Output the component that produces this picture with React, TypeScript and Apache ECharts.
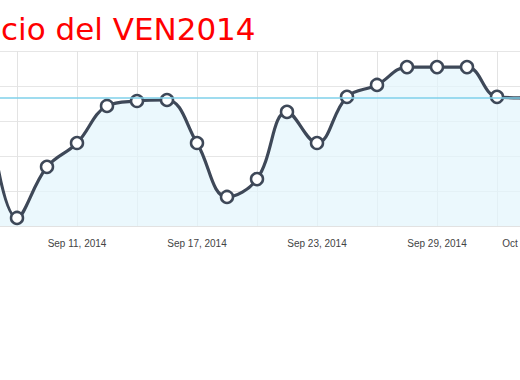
import React, { useEffect, useRef } from "react";
import * as echarts from "echarts";

const titleText = "cio del VEN2014";
const xLabels = [
  "", "", "", "Sep 11, 2014", "", "", "", "Sep 17, 2014", "", "",
  "", "Sep 23, 2014", "", "", "", "Sep 29, 2014", "", "", "Oct", "",
];
const priceValues = [
  3.75, 0.23, 1.69, 2.37, 3.43, 3.57, 3.6, 2.37, 0.83, 1.34,
  3.26, 2.37, 3.69, 4.03, 4.54, 4.54, 4.54, 3.69, 3.66, 3.66,
];
const referenceValue = 3.67;

export default function App() {
  const ref = useRef<HTMLDivElement>(null);
  useEffect(() => {
    if (!ref.current) return;
    const chart = echarts.init(ref.current, null, { renderer: "svg" });
    chart.setOption({
      animation: false,
      graphic: [
        {
          type: "text",
          left: 1,
          top: 13,
          style: {
            text: titleText,
            fill: "#ff0000",
            fontSize: 31,
            fontFamily: "DejaVu Sans",
          },
        },
      ],
      grid: {
        left: -13,
        right: -37,
        top: 51,
        bottom: 154,
        containLabel: false,
        outerBoundsMode: "none",
      },
      xAxis: {
        type: "category",
        boundaryGap: false,
        data: xLabels.map((l, i) => (l === "" ? " ".repeat(i + 1) : l)),
        axisLine: { show: true, lineStyle: { color: "#e2e2e2" } },
        axisTick: { show: false },
        axisLabel: {
          interval: 0,
          color: "#444",
          fontSize: 10,
          fontFamily: "Liberation Sans, Arial",
          margin: 12,
          formatter: (v: string) => (v === "Oct" ? "{o|Oct}" : v),
          rich: {
            o: {
              color: "#444",
              fontSize: 10,
              fontFamily: "Liberation Sans, Arial",
              padding: [0, 34, 0, 0],
            },
          },
        },
        splitLine: {
          show: true,
          interval: (index: number) => index % 2 === 1,
          lineStyle: { color: "#e3e3e3", width: 1 },
        },
      },
      yAxis: {
        type: "value",
        min: 0,
        max: 5,
        interval: 1,
        axisLabel: { show: false },
        axisLine: { show: false },
        axisTick: { show: false },
        splitLine: { lineStyle: { color: "#e6e6e6" } },
      },
      series: [
        {
          type: "line",
          data: priceValues,
          smooth: 0.4,
          symbol: "circle",
          symbolSize: 12,
          showAllSymbol: true,
          lineStyle: { color: "#3e4858", width: 3.2 },
          itemStyle: { color: "#ffffff", borderColor: "#3e4858", borderWidth: 2.5 },
          areaStyle: { color: "#e2f5fc" },
          z: 3,
          markLine: {
            silent: true,
            symbol: "none",
            label: { show: false },
            lineStyle: { color: "#7fd0ea", width: 1.5, type: "solid" },
            data: [{ yAxis: referenceValue }],
          },
        },
      ],
    });
    return () => chart.dispose();
  }, []);
  return (
    <div
      ref={ref}
      style={{ position: "fixed", left: 0, top: 0, width: 520, height: 380, background: "#fff" }}
    />
  );
}
